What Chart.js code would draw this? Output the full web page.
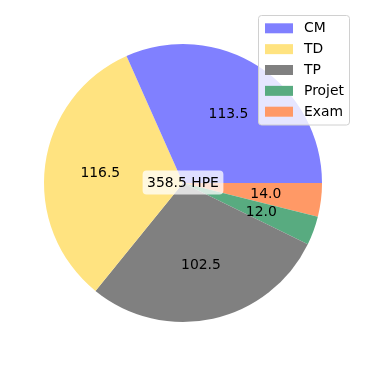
<!DOCTYPE html>
<html>
<head>
<meta charset="utf-8">
<script src="https://cdn.jsdelivr.net/npm/chart.js@4"></script>
<style>
  html, body { margin: 0; padding: 0; background: #fff; }
  #wrap { width: 366px; height: 366px; }
</style>
</head>
<body>
<div id="wrap"><canvas id="pieChart" width="366" height="366"></canvas></div>
<script>
const categories = ['CM', 'TD', 'TP', 'Projet', 'Exam'];
const hours = [113.5, 116.5, 102.5, 12.0, 14.0];
const sliceColors = ['#8080ff', '#ffe380', '#808080', '#58ab80', '#ff9966'];
const unit = 'HPE';

const FONT = '"DejaVu Sans", sans-serif';
const total = hours.reduce((a, b) => a + b, 0);

// matplotlib draws counter-clockwise from 3 o'clock, chart.js clockwise -> reverse order
const revValues = hours.slice().reverse();
const revColors = sliceColors.slice().reverse();
const revLabels = categories.slice().reverse();

const overlay = {
    id: 'overlay',
    afterDatasetsDraw(chart) {
        const c = chart.ctx;
        const arcs = chart.getDatasetMeta(0).data;
        c.save();
        c.font = '13.9px ' + FONT;
        c.fillStyle = '#000';
        c.textAlign = 'center';
        c.textBaseline = 'middle';
        arcs.forEach((arc, i) => {
            const mid = (arc.startAngle + arc.endAngle) / 2;
            const r = arc.outerRadius * 0.6;
            c.fillText(revValues[i].toFixed(1), arc.x + Math.cos(mid) * r, arc.y + Math.sin(mid) * r + 1);
        });

        // total in the middle
        const cx = arcs[0].x, cy = arcs[0].y;
        const txt = total.toFixed(1) + ' ' + unit;
        const w = c.measureText(txt).width + 9;
        const h = 24;
        c.fillStyle = 'rgba(255,255,255,0.75)';
        c.beginPath();
        c.roundRect(cx - w / 2, cy - h / 2 - 0.5, w, h, 4);
        c.fill();
        c.fillStyle = '#000';
        c.fillText(txt, cx, cy + 0.5);
        c.restore();
    },
    afterDraw(chart) {
        const c = chart.ctx;
        c.save();
        // legend frame
        c.fillStyle = 'rgba(255,255,255,0.8)';
        c.strokeStyle = '#d0d0d0';
        c.lineWidth = 1;
        c.beginPath();
        c.roundRect(258.5, 15.5, 91, 109.5, 3);
        c.fill();
        c.stroke();
        c.font = '13.9px ' + FONT;
        c.textBaseline = 'middle';
        c.textAlign = 'left';
        categories.forEach((name, i) => {
            const y = 28.3 + i * 20.85;
            c.fillStyle = sliceColors[i];
            c.fillRect(265, y - 5, 28, 10);
            c.fillStyle = '#000';
            c.fillText(name, 304, y + 0.5);
        });
        c.restore();
    }
};

new Chart(document.getElementById('pieChart'), {
    type: 'pie',
    data: {
        labels: revLabels,
        datasets: [{
            data: revValues,
            backgroundColor: revColors,
            borderWidth: 0,
            hoverOffset: 0
        }]
    },
    options: {
        responsive: false,
        animation: false,
        rotation: 90,
        layout: { padding: 44 },
        plugins: {
            legend: { display: false },
            tooltip: { enabled: false }
        }
    },
    plugins: [overlay]
});
</script>
</body>
</html>
